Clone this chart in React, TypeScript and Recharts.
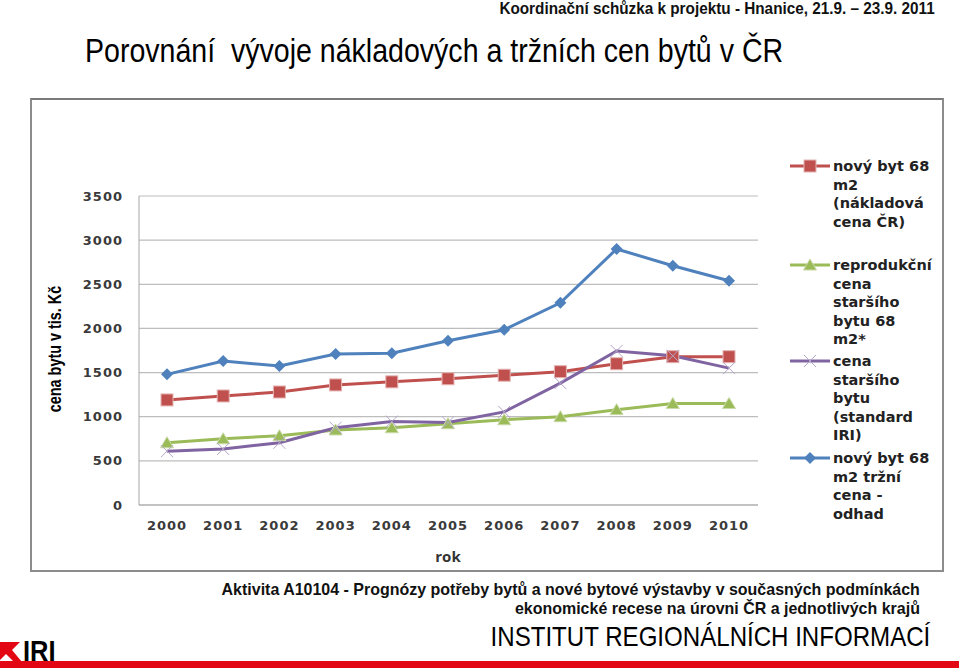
import React from 'react'
import { LineChart, Line, XAxis, YAxis, CartesianGrid } from 'recharts'

const years = ['2000', '2001', '2002', '2003', '2004', '2005', '2006', '2007', '2008', '2009', '2010']
const nakladovaCena = [1190, 1235, 1280, 1360, 1395, 1430, 1470, 1510, 1600, 1680, 1680]
const reprodukcniCena = [705, 750, 785, 850, 875, 920, 965, 1000, 1080, 1150, 1150]
const cenaStarsihoBytu = [610, 635, 705, 875, 945, 935, 1055, 1380, 1745, 1690, 1550]
const trzniCena = [1480, 1630, 1575, 1710, 1720, 1860, 1985, 2290, 2900, 2710, 2540]
const yTicks = [0, 500, 1000, 1500, 2000, 2500, 3000, 3500]

const data = years.map((rok, i) => ({
  rok,
  naklady: nakladovaCena[i],
  reprodukcni: reprodukcniCena[i],
  starsi: cenaStarsihoBytu[i],
  trzni: trzniCena[i],
}))

const ARIAL = '"Liberation Sans", Arial, sans-serif'
const CALIBRI = '"Open Sans", "Noto Sans", sans-serif'

type DotProps = { cx?: number; cy?: number; index?: number }
type Shape = 'square' | 'triangle' | 'cross' | 'diamond'

function marker(shape: Shape, cx: number, cy: number, key?: string | number) {
  if (shape === 'square')
    return <rect key={key} x={cx - 6} y={cy - 6} width={12} height={12} fill="#C0504D" stroke="#e4b4b3" strokeWidth={1} />
  if (shape === 'triangle')
    return (
      <polygon
        key={key}
        points={`${cx},${cy - 6} ${cx + 6.5},${cy + 5} ${cx - 6.5},${cy + 5}`}
        fill="#9BBB59"
        stroke="#c9dba8"
        strokeWidth={1}
      />
    )
  if (shape === 'diamond')
    return <polygon key={key} points={`${cx},${cy - 6} ${cx + 6},${cy} ${cx},${cy + 6} ${cx - 6},${cy}`} fill="#4F81BD" />
  return (
    <g key={key} stroke="#b3a5c9" strokeWidth={1}>
      <line x1={cx - 6} y1={cy - 6} x2={cx + 6} y2={cy + 6} />
      <line x1={cx - 6} y1={cy + 6} x2={cx + 6} y2={cy - 6} />
    </g>
  )
}

const series: { key: string; color: string; shape: Shape; label: string[] }[] = [
  { key: 'naklady', color: '#C0504D', shape: 'square', label: ['nový byt 68', 'm2', '(nákladová', 'cena ČR)'] },
  { key: 'reprodukcni', color: '#9BBB59', shape: 'triangle', label: ['reprodukční', 'cena', 'staršího', 'bytu 68', 'm2*'] },
  { key: 'starsi', color: '#8064A2', shape: 'cross', label: ['cena', 'staršího', 'bytu', '(standard', 'IRI)'] },
  { key: 'trzni', color: '#4F81BD', shape: 'diamond', label: ['nový byt 68', 'm2 tržní', 'cena -', 'odhad'] },
]

const legendTops = [157, 256, 352, 449]

const tickStyle = { fontFamily: 'DejaVu Sans', fontSize: 13, fontWeight: 'bold', fill: '#3a3a3a', letterSpacing: 1 }

export default function App() {
  return (
    <div style={{ position: 'absolute', left: 0, top: 0, width: 959, height: 668, background: '#fff', overflow: 'hidden' }}>
      <div
        style={{
          position: 'absolute',
          right: 24,
          top: 0,
          fontFamily: ARIAL,
          fontWeight: 'bold',
          fontSize: 17,
          lineHeight: '17px',
          color: '#111',
          whiteSpace: 'nowrap',
          transform: 'scaleX(0.9)',
          transformOrigin: 'right top',
        }}
      >
        Koordinační schůzka k projektu - Hnanice, 21.9. – 23.9. 2011
      </div>
      <div
        style={{
          position: 'absolute',
          left: 85,
          top: 32,
          fontFamily: ARIAL,
          fontSize: 33,
          color: '#000',
          whiteSpace: 'pre',
          transform: 'scaleX(0.865)',
          transformOrigin: 'left top',
        }}
      >
        Porovnání  vývoje nákladových a tržních cen bytů v ČR
      </div>

      <div style={{ position: 'absolute', left: 30, top: 98, width: 910, height: 470, border: '2px solid #8c8c8c', borderTopColor: '#7a7a7a' }} />

      <div
        style={{
          position: 'absolute',
          left: 55,
          top: 349,
          transform: 'translate(-50%, -50%) rotate(-90deg) scaleX(0.8)',
          fontFamily: ARIAL,
          fontWeight: 'bold',
          fontSize: 18,
          whiteSpace: 'nowrap',
          color: '#000',
        }}
      >
        cena bytu v tis. Kč
      </div>
      <div style={{ position: 'absolute', left: 448, top: 556, transform: 'translate(-50%, -50%)', fontFamily: CALIBRI, fontWeight: 'bold', fontSize: 15, color: '#333' }}>
        rok
      </div>

      {series.map((s, i) => (
        <div key={s.key} style={{ position: 'absolute', left: 788, top: legendTops[i] }}>
          <svg width={44} height={18} style={{ position: 'absolute', left: 0, top: 0 }}>
            <line x1={2} y1={9} x2={42} y2={9} stroke={s.color} strokeWidth={3} />
            {marker(s.shape, 22, 9)}
          </svg>
          <div
            style={{
              position: 'absolute',
              left: 45,
              top: 0,
              fontFamily: 'DejaVu Sans',
              fontWeight: 'bold',
              fontSize: 14.5,
              lineHeight: '18.6px',
              color: '#222',
              whiteSpace: 'nowrap',
            }}
          >
            {s.label.map((t) => (
              <div key={t}>{t}</div>
            ))}
          </div>
        </div>
      ))}

      <div style={{ position: 'absolute', left: 0, top: 0 }}>
        <LineChart width={959} height={668} data={data} margin={{ top: 196, right: 201, left: 79, bottom: 133 }}>
          <CartesianGrid vertical={false} stroke="#bdbdbd" strokeWidth={1.2} />
          <XAxis
            dataKey="rok"
            height={30}
            padding={{ left: 28, right: 29 }}
            axisLine={{ stroke: '#a6a6a6' }}
            tickLine={false}
            tickMargin={10}
            tick={tickStyle}
          />
          <YAxis
            width={60}
            domain={[0, 3500]}
            ticks={yTicks}
            axisLine={{ stroke: '#a6a6a6' }}
            tickLine={false}
            tickMargin={10}
            tick={tickStyle}
          />
          {series.map((s) => (
            <Line
              key={s.key}
              dataKey={s.key}
              type="linear"
              stroke={s.color}
              strokeWidth={3}
              isAnimationActive={false}
              dot={(p: DotProps) => marker(s.shape, p.cx ?? 0, p.cy ?? 0, `${s.key}-${p.index}`)}
              activeDot={false}
            />
          ))}
        </LineChart>
      </div>

      <div
        style={{
          position: 'absolute',
          right: 39,
          top: 580,
          textAlign: 'right',
          fontFamily: ARIAL,
          fontWeight: 'bold',
          fontSize: 17,
          lineHeight: '19px',
          color: '#111',
          whiteSpace: 'nowrap',
          transform: 'scaleX(0.94)',
          transformOrigin: 'right top',
        }}
      >
        <div>Aktivita A10104 - Prognózy potřeby bytů a nové bytové výstavby v současných podmínkách</div>
        <div>ekonomické recese na úrovni ČR a jednotlivých krajů</div>
      </div>
      <div
        style={{
          position: 'absolute',
          right: 29,
          top: 621,
          fontFamily: ARIAL,
          fontSize: 28,
          lineHeight: '32px',
          color: '#000',
          whiteSpace: 'nowrap',
          transform: 'scaleX(0.86)',
          transformOrigin: 'right top',
        }}
      >
        INSTITUT REGIONÁLNÍCH INFORMACÍ
      </div>

      <svg width={60} height={26} style={{ position: 'absolute', left: 0, top: 640 }}>
        <polygon points="0,2 20,2 12,10 22,22 14,22 6,14 0,20" fill="#e30613" />
      </svg>
      <div
        style={{
          position: 'absolute',
          left: 23,
          top: 634,
          fontFamily: ARIAL,
          fontWeight: 'bold',
          fontSize: 30,
          color: '#000',
          transform: 'scaleX(0.85)',
          transformOrigin: 'left top',
        }}
      >
        IRI
      </div>
      <div style={{ position: 'absolute', left: 0, top: 661, width: 959, height: 7, background: '#e30613' }} />
    </div>
  )
}
